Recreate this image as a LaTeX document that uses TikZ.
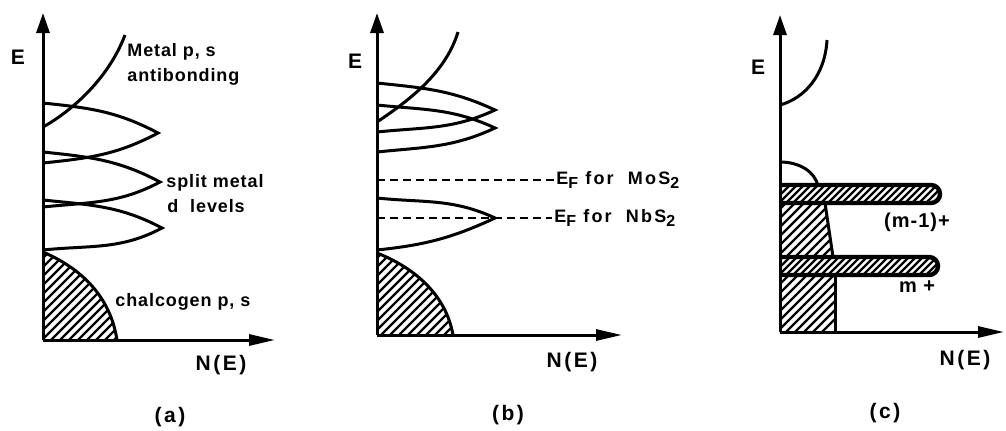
\documentclass[tikz,border=0pt]{standalone}
\usepackage{fontspec}
\setmainfont{Liberation Sans}
\usetikzlibrary{arrows.meta}

\newcommand{\lowsub}[1]{\raisebox{-0.5ex}{\footnotesize #1}}

\begin{document}
\begin{tikzpicture}[x=0.5pt,y=-0.5pt,
  axis/.style={line width=1.5pt},
  yaxis/.style={axis,-{Triangle[length=10pt,width=6.5pt]}},
  xaxis/.style={axis,-{Triangle[length=13pt,width=5.5pt]}},
  band/.style={line width=1.5pt},
  hatch/.style={line width=1.2pt},
  fermi/.style={line width=0.8pt,dash pattern=on 4pt off 2.5pt},
  lbl/.style={font=\fontsize{9}{10}\selectfont\bfseries\addfontfeature{LetterSpace=5},inner sep=0pt},
  eflbl/.style={lbl,font=\fontsize{9}{10}\selectfont\bfseries\addfontfeature{LetterSpace=12},inner sep=1pt},
  axlbl/.style={font=\fontsize{10.5}{12}\selectfont\bfseries\addfontfeature{LetterSpace=12},inner sep=0pt}
]
\useasboundingbox (0,0) rectangle (1006,430);

% (a) split d levels
\coordinate (oa) at (43,340);
\coordinate (ya) at (43,13);
\coordinate (xa) at (275,340);
\begin{scope}
  \clip (43,252) .. controls (80,268) and (110,295) .. (117,340) -- (43,340) -- cycle;
  \foreach \k in {0,9,...,200} \draw[hatch] (\k-80,345) -- ++(110,-110);
\end{scope}
\draw[band] (43,252) .. controls (80,268) and (110,295) .. (117,340);
\foreach \t/\px/\py/\b in {103/158/133/163,152/160/182/207,200/162/228/250}
  \draw[band] (43,\t) to[out=-6,in=152] (\px,\py) to[out=-152,in=6] (43,\b);
\draw[band] (43,127) .. controls (70,112) and (108,80) .. (125,35);
\draw[yaxis] (oa) -- (ya);
\draw[xaxis] (oa) -- (xa);
\node[axlbl] (ea) at (18,57) {E};
\node[axlbl] (nea) at (221,365) {N(E)};
\node[lbl,anchor=west] (metal) at (127,52) {Metal p, s};
\node[lbl,anchor=west] (anti) at (127,77) {antibonding};
\node[lbl,anchor=west] (split) at (166,183) {split metal};
\node[lbl,anchor=west] (dlev) at (167,206) {d\ \ levels};
\node[lbl,anchor=west] (chal) at (115,302) {chalcogen p, s};
\node[axlbl] (capa) at (170,417) {(a)};

% (b) Fermi levels
\coordinate (ob) at (377,335);
\coordinate (yb) at (377,13);
\coordinate (xb) at (622,335);
\begin{scope}
  \clip (377,253) .. controls (415,268) and (446,295) .. (453,335) -- (377,335) -- cycle;
  \foreach \k in {0,9,...,200} \draw[hatch] (\k+250,340) -- ++(110,-110);
\end{scope}
\draw[band] (377,253) .. controls (415,268) and (446,295) .. (453,335);
\foreach \t/\px/\py/\b in {83/495/110/132,105/495/128/152,198/495/218/250}
  \draw[band] (377,\t) to[out=-6,in=155] (\px,\py) to[out=-155,in=6] (377,\b);
\draw[band] (377,122) .. controls (405,103) and (445,75) .. (458,32);
\draw[yaxis] (ob) -- (yb);
\draw[xaxis] (ob) -- (xb);
\node[eflbl,anchor=west] (mos) at (554,180) {E\lowsub{F}\ for\ \ MoS\lowsub{2}};
\node[eflbl,anchor=west] (nbs) at (552,218) {E\lowsub{F}\ for\ \ NbS\lowsub{2}};
\draw[fermi] (377,180) -- (mos);
\draw[fermi] (377,218) -- (nbs);
\node[axlbl] (eb) at (355,61) {E};
\node[axlbl] (neb) at (572,362) {N(E)};
\node[axlbl] (capb) at (508,415) {(b)};

% (c) narrow bands
\coordinate (oc) at (780,332);
\coordinate (yc) at (780,15);
\coordinate (xc) at (1004,332);
\begin{scope}
  \clip (780,203) -- (825,203) -- (833,257) -- (780,257) -- cycle;
  \foreach \k in {0,9,...,120} \draw[hatch] (\k+700,262) -- ++(70,-70);
\end{scope}
\begin{scope}
  \clip (780,275) -- (835,275) -- (835,332) -- (780,332) -- cycle;
  \foreach \k in {0,9,...,120} \draw[hatch] (\k+700,337) -- ++(70,-70);
\end{scope}
\draw[band] (825,203) -- (833,257);
\draw[band] (835,275) -- (835,332);
\foreach \yt/\yb/\xr in {185/203/931,257/275/929} {
  \begin{scope}
    \clip (780,\yt) -- (\xr,\yt) arc(-90:90:9) -- (780,\yb) -- cycle;
    \foreach \k in {0,7,...,180} \draw[hatch] (\k+760,\yb+5) -- ++(28,-28);
  \end{scope}
  \draw[line width=2.2pt] (780,\yt) -- (\xr,\yt) arc(-90:90:9) -- (780,\yb);
}
\draw[band] (780,162) .. controls (800,162) and (815,172) .. (818,186);
\draw[band] (780,105) .. controls (805,98) and (825,75) .. (827,40);
\draw[yaxis] (oc) -- (yc);
\draw[xaxis] (oc) -- (xc);
\node[axlbl] (ec) at (758,67) {E};
\node[axlbl] (nec) at (965,360) {N(E)};
\node[lbl,font=\fontsize{10}{11}\selectfont\bfseries\addfontfeature{LetterSpace=5}] (m1) at (917,222) {(m-1)+};
\node[lbl,font=\fontsize{10}{11}\selectfont\bfseries\addfontfeature{LetterSpace=5}] (m0) at (917,287) {m +};
\node[axlbl] (capc) at (885,413) {(c)};
\end{tikzpicture}
\end{document}
